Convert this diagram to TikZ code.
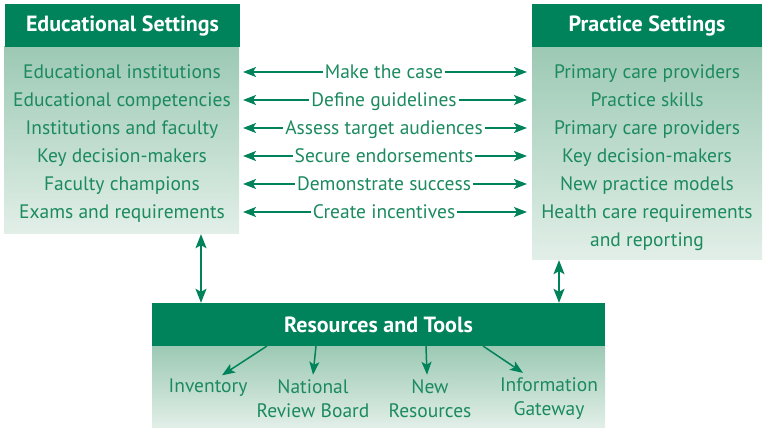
\documentclass[tikz,border=0pt]{standalone}
\usepackage{fontspec}
\setmainfont{PT Sans}
\usetikzlibrary{arrows.meta,positioning}
\definecolor{ngreen}{HTML}{00835A}
\definecolor{ntext}{HTML}{1B8A5E}
\definecolor{ntop}{HTML}{9CC9B4}
\definecolor{nbottom}{HTML}{E2EFE8}

\begin{document}
\begin{tikzpicture}
  [x=1pt,y=1pt,
   every node/.style={font=\fontsize{19.5}{24}\selectfont,text=ntext,inner sep=2pt},
   row/.style={text height=15pt,text depth=2pt},
   head/.style={fill=ngreen,text=white,font=\fontsize{22}{24}\selectfont\bfseries,inner sep=0pt,minimum height=43pt},
   body/.style={top color=ntop,bottom color=nbottom,draw=none,inner sep=0pt},
   link/.style={draw=ngreen,line width=1.5pt,-{Stealth[length=13pt,width=10pt,inset=3pt]}},
   dbl/.style={draw=ngreen,line width=1.5pt,{Stealth[length=14pt,width=11pt,inset=3pt]}-{Stealth[length=14pt,width=11pt,inset=3pt]}}]

  \useasboundingbox (0,0) rectangle (764,430);

  % boxes
  \node[body,minimum width=235pt,minimum height=187pt] (edubody) at (121.5,289.5) {};
  \node[head,minimum width=235pt] (eduhead) at (122.5,404.5) {Educational Settings};
  \node[body,minimum width=230pt,minimum height=213pt] (pracbody) at (647,276.5) {};
  \node[head,minimum width=230pt] (prachead) at (647,404) {Practice Settings};
  \node[body,minimum width=453pt,minimum height=82pt] (resbody) at (378.5,43) {};
  \node[head,minimum width=453pt] (reshead) at (378.5,105.5) {Resources and Tools};

  % rows
  \node[row] (e1) at (122,358) {Educational institutions};
  \node[row] (e2) at (122,330) {Educational competencies};
  \node[row] (e3) at (122,302) {Institutions and faculty};
  \node[row] (e4) at (122,274) {Key decision-makers};
  \node[row] (e5) at (122,246) {Faculty champions};
  \node[row] (e6) at (122,218) {Exams and requirements};

  \node[row] (p1) at (647,358) {Primary care providers};
  \node[row] (p2) at (647,330) {Practice skills};
  \node[row] (p3) at (647,302) {Primary care providers};
  \node[row] (p4) at (647,274) {Key decision-makers};
  \node[row] (p5) at (647,246) {New practice models};
  \node[row] (p6) at (647,218) {Health care requirements};
  \node[row] (p7) at (647,190) {and reporting};

  \node[row] (m1) at (384,358) {Make the case};
  \node[row] (m2) at (384,330) {Define guidelines};
  \node[row] (m3) at (384,302) {Assess target audiences};
  \node[row] (m4) at (384,274) {Secure endorsements};
  \node[row] (m5) at (384,246) {Demonstrate success};
  \node[row] (m6) at (384,218) {Create incentives};

  \foreach \i/\y in {1/358,2/330,3/302,4/274,5/246,6/218} {
    \coordinate (l\i) at (243,\y);
    \coordinate (r\i) at (527,\y);
    \draw[link] (m\i) -- (l\i);
    \draw[link] (m\i) -- (r\i);
  }

  % vertical links
  \coordinate (ea) at (201,0);
  \coordinate (pa) at (559,0);
  \draw[dbl] (edubody.south -| ea) -- (reshead.north -| ea);
  \draw[dbl] (pracbody.south -| pa) -- (reshead.north -| pa);

  % tools
  \node[row] (inv) at (208,44) {Inventory};
  \node[align=center] (nat) at (313,31) {National\\Review Board};
  \node[align=center] (new) at (430,31) {New\\Resources};
  \node[align=center] (info) at (549,31) {Information\\Gateway};

  \coordinate (s1) at (267,84);
  \coordinate (s2) at (316,84);
  \coordinate (s3) at (426,84);
  \coordinate (s4) at (483,84);
  \draw[link] (s1) -- ([xshift=14pt]inv.north);
  \draw[link] (s2) -- ([yshift=3pt]nat.north);
  \draw[link] (s3) -- ([xshift=-3pt,yshift=3pt]new.north);
  \draw[link] (s4) -- ([xshift=-26pt,yshift=3pt]info.north);
\end{tikzpicture}
\end{document}
